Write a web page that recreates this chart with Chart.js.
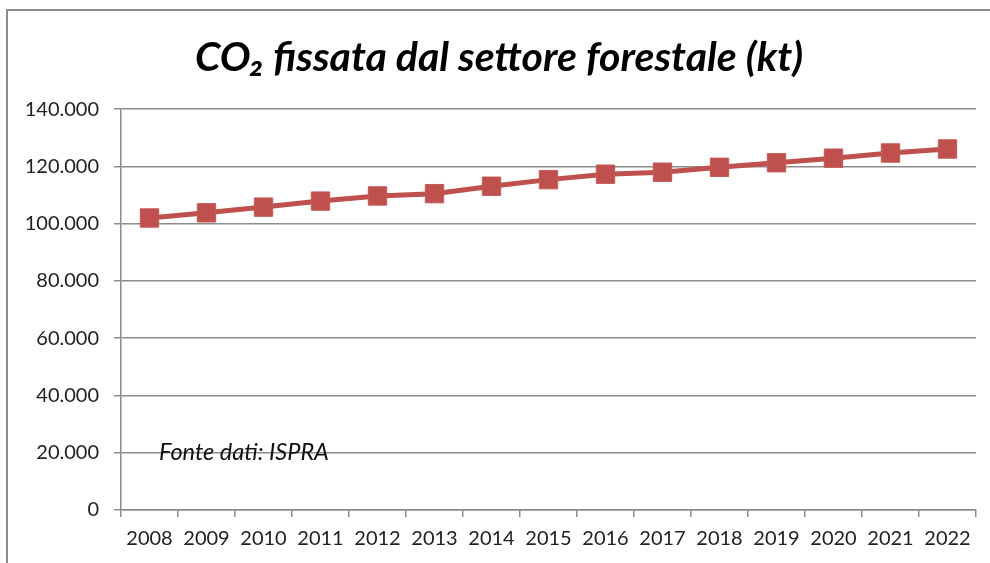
<!DOCTYPE html>
<html>
<head>
<meta charset="utf-8">
<title>CO2 fissata dal settore forestale</title>
<script src="https://cdn.jsdelivr.net/npm/chart.js@4/dist/chart.umd.min.js"></script>
<style>
    body { margin: 0; background: #fff; }
    #chart { display: block; }
</style>
</head>
<body>
<canvas id="chart" width="990" height="563"></canvas>
<script>
// data (kt)
const years = ['2008', '2009', '2010', '2011', '2012', '2013', '2014', '2015',
               '2016', '2017', '2018', '2019', '2020', '2021', '2022'];
const co2Fixed = [102000, 103800, 105800, 107900, 109700, 110500, 113100, 115400,
                  117300, 118000, 119700, 121300, 122900, 124700, 126100];
const yTicks = [0, 20000, 40000, 60000, 80000, 100000, 120000, 140000];

const titleText = 'CO\u2082 fissata dal settore forestale (kt)';
const sourceText = 'Fonte dati: ISPRA';
const fontFamily = 'Lato, "Open Sans", sans-serif';

// italian thousands separator
function fmt(v) {
    return String(v).replace(/\B(?=(\d{3})+(?!\d))/g, '.');
}

// outer frame + source note
const extras = {
    id: 'extras',
    beforeDraw(chart) {
        const c = chart.ctx;
        c.save();
        c.strokeStyle = '#8c8c8c';
        c.lineWidth = 2;
        c.beginPath();
        c.moveTo(7, chart.height);
        c.lineTo(7, 10);
        c.lineTo(chart.width, 10);
        c.stroke();
        c.restore();
    },
    afterDatasetsDraw(chart) {
        const c = chart.ctx;
        const y = chart.scales.y.getPixelForValue(20000);
        c.save();
        c.font = 'italic 23.5px ' + fontFamily;
        c.fillStyle = '#111';
        c.textBaseline = 'middle';
        c.fillText(sourceText, chart.chartArea.left + 38, y);
        c.restore();
    }
};

new Chart(document.getElementById('chart'), {
    type: 'line',
    data: {
        labels: years,
        datasets: [{
            label: 'CO2 fissata',
            data: co2Fixed,
            borderColor: '#c0504d',
            backgroundColor: '#c0504d',
            borderWidth: 5,
            pointStyle: 'rect',
            pointRadius: 13,
            pointBorderWidth: 1,
            pointBorderColor: '#c45b58',
            pointBackgroundColor: '#c0504d',
            tension: 0
        }]
    },
    options: {
        responsive: false,
        animation: false,
        devicePixelRatio: 1,
        layout: { padding: { left: 20, right: 12, top: 0, bottom: 0 } },
        plugins: {
            legend: { display: false },
            tooltip: { enabled: false },
            title: {
                display: true,
                text: titleText,
                color: '#000',
                font: { family: fontFamily, size: 41, weight: 'bold', style: 'italic' },
                padding: { top: 33, bottom: 27 }
            }
        },
        scales: {
            x: {
                offset: true,
                grid: {
                    offset: true,
                    drawOnChartArea: false,
                    drawTicks: true,
                    tickLength: 7,
                    color: '#8c8c8c',
                    lineWidth: 1.5
                },
                border: { color: '#8c8c8c', width: 1.5 },
                ticks: {
                    color: '#222',
                    padding: 10,
                    maxRotation: 0,
                    autoSkip: false,
                    font: { family: fontFamily, size: 20 }
                },
                afterFit(scale) { scale.height = 53; }
            },
            y: {
                min: 0,
                max: 140000,
                afterBuildTicks(scale) {
                    scale.ticks = yTicks.map(v => ({ value: v }));
                },
                grid: {
                    color: '#8c8c8c',
                    lineWidth: 1.5,
                    tickLength: 7
                },
                border: { color: '#8c8c8c', width: 1.5 },
                ticks: {
                    color: '#222',
                    padding: 15,
                    font: { family: fontFamily, size: 20 },
                    callback: function(value) { return fmt(value); }
                },
                afterFit(scale) { scale.width = 101; }
            }
        }
    },
    plugins: [extras]
});
</script>
</body>
</html>
